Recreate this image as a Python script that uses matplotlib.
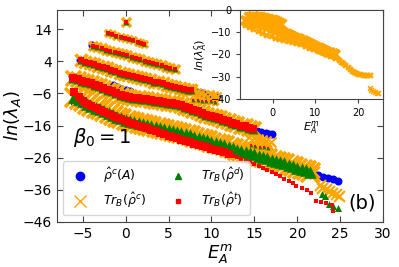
import matplotlib

matplotlib.use("Agg")
import matplotlib.pyplot as plt
from matplotlib.lines import Line2D

# ---- data (energy E_A^m, ln of eigenvalue) ----
band_a_e = [0.0]
band_a_ln = [16.1]

band_b_e = [-2.1, -1.6, -1.1, -0.6, -0.1, 0.4, 0.9, 1.4, 1.8, 2.1]
band_b_ln = [12.8, 12.4, 12.0, 11.6, 11.3, 10.9, 10.5, 10.1, 9.8, 9.5]

band_c_e = [-3.8, -3.3, -2.8, -2.3, -1.8, -1.3, -0.8, -0.3, 0.2, 0.7, 1.2, 1.7, 2.2, 2.7, 3.2, 3.7, 4.2, 4.7, 5.2, 5.7]
band_c_ln = [8.8, 8.4, 8.0, 7.6, 7.2, 6.9, 6.6, 6.2, 5.8, 5.4, 5.0, 4.6, 4.2, 3.8, 3.5, 3.1, 2.7, 2.3, 1.9, 1.5]

band_d_e = [-5.2, -4.7, -4.2, -3.7, -3.2, -2.7, -2.2, -1.7, -1.2, -0.7, -0.2, 0.3, 0.8, 1.3, 1.8, 2.3,
            2.8, 3.3, 3.8, 4.3, 4.8, 5.3, 5.8, 6.3, 6.8, 7.3, 7.6]
band_d_ln = [4.3, 3.9, 3.5, 3.1, 2.6, 2.2, 1.8, 1.3, 0.9, 0.4, 0.1, -0.3, -0.6, -0.9, -1.3, -1.6,
             -1.9, -2.3, -2.6, -2.9, -3.3, -3.6, -4.0, -4.3, -4.6, -4.9, -5.0]

block_d_top_e = [7.8, 8.3, 8.8, 9.3, 9.8, 10.3, 10.7]
block_d_top_ln = [-5.3, -5.6, -5.8, -6.1, -6.3, -6.6, -6.8]
block_d_low_e = [7.9, 8.4, 8.9, 9.4, 9.9, 10.4]
block_d_low_ln = [-8.0, -8.1, -8.3, -8.4, -8.5, -8.6]

band_e_e = [-6.1, -5.6, -5.1, -4.6, -4.1, -3.6, -3.1, -2.6, -2.1, -1.6, -1.1, -0.6, -0.1, 0.4, 0.9,
            1.4, 1.9, 2.4, 2.9, 3.4, 3.9, 4.4, 4.9, 5.4, 5.9, 6.4, 6.9, 7.4, 7.9, 8.4, 8.9, 9.4,
            9.9, 10.4, 10.9, 11.4, 11.9, 12.4, 12.9, 13.4, 13.9, 14.4, 14.8]
band_e_ln = [-1.3, -1.6, -2.0, -2.4, -2.8, -3.3, -3.8, -4.3, -4.8, -5.4, -5.9, -6.4, -6.8, -7.1, -7.3,
             -7.5, -7.7, -7.9, -8.1, -8.3, -8.5, -8.7, -8.9, -9.1, -9.4, -9.7, -10.1, -10.6, -11.1, -11.6,
             -12.1, -12.6, -13.0, -13.4, -13.8, -14.2, -14.7, -15.2, -15.6, -16.0, -16.3, -16.7, -17.0]

block_e_top_e = [14.4, 14.9, 15.4, 15.9, 16.4, 16.9]
block_e_top_ln = [-19.6, -19.9, -20.2, -20.5, -20.8, -21.0]
block_e_low_e = [14.6, 15.1, 15.6, 16.1, 16.6]
block_e_low_ln = [-22.2, -22.4, -22.6, -22.8, -23.0]

band_f_e = [-6.0, -5.5, -5.0, -4.5, -4.0, -3.5, -3.0, -2.5, -2.0, -1.5, -1.0, -0.5, 0.0, 0.5, 1.0,
            1.5, 2.0, 2.5, 3.0, 3.5, 4.0, 4.5, 5.0, 5.5, 6.0, 6.5, 7.0, 7.5, 8.0, 8.5, 9.0, 9.5,
            10.0, 10.5, 11.0, 11.5, 12.0, 12.5, 13.0, 13.5, 14.0, 14.5, 15.0, 15.5, 16.0, 16.5,
            17.0, 17.5, 18.0, 18.5, 19.0, 19.5, 20.0, 20.5, 21.0, 21.5]
band_f_ln = [-7.0, -7.8, -8.5, -9.2, -9.8, -10.4, -11.0, -11.6, -12.2, -12.8, -13.3, -13.8, -14.2, -14.6, -15.0,
             -15.3, -15.6, -15.9, -16.2, -16.5, -16.8, -17.1, -17.4, -17.7, -18.0, -18.4, -18.7, -19.1, -19.5, -19.9,
             -20.3, -20.6, -21.0, -21.4, -21.8, -22.2, -22.6, -23.0, -23.5, -23.9, -24.3, -24.6, -25.0, -25.4,
             -25.8, -26.2, -26.6, -27.0, -27.4, -27.8, -28.3, -28.7, -29.2, -29.6, -30.0, -30.5]

# red (rho^t) follows band F but drifts to its lower edge and then splits off
red_f_e = [-6.0, -5.5, -5.0, -4.5, -4.0, -3.5, -3.0, -2.5, -2.0, -1.5, -1.0, -0.5, 0.0, 0.5, 1.0, 1.5,
           2.0, 2.5, 3.0, 3.5, 4.0, 4.5, 5.0, 5.5, 6.0, 6.5, 7.0, 7.5, 8.0, 8.5, 9.0, 9.5, 10.0,
           10.5, 11.0, 11.5, 12.0]
red_f_ln = [-5.5, -7.0, -8.3, -9.2, -9.9, -10.6, -11.2, -11.8, -12.4, -13.0, -13.6, -14.1, -14.6, -15.1,
            -15.6, -16.0, -16.5, -16.9, -17.4, -17.8, -18.3, -18.7, -19.2, -19.6, -20.0, -20.4, -20.8,
            -21.2, -21.6, -22.0, -22.4, -22.8, -23.2, -23.6, -24.0, -24.4, -24.9]
red_tail_e = [12.5, 13.0, 13.5, 14.0, 14.5, 15.0, 15.5, 16.0, 16.5, 17.0, 17.5, 18.0, 18.5, 19.0, 19.5, 19.9,
              20.6, 21.1, 21.6, 22.2, 22.8, 23.4, 24.0, 24.2]
red_tail_ln = [-25.4, -25.9, -26.4, -26.9, -27.4, -28.0, -28.6, -29.2, -29.8, -30.5, -31.2, -31.8, -32.5,
               -33.2, -34.0, -34.8, -35.4, -36.2, -36.9, -39.4, -39.8, -40.2, -40.8, -42.5]

orange_end_e = [18.5, 19.2, 19.9, 20.6, 21.3, 22.0, 22.6, 22.9, 23.3, 23.7, 24.1, 24.5, 24.9]
orange_end_ln = [-27.6, -28.2, -28.8, -29.4, -30.0, -30.6, -34.5, -35.3, -35.9, -36.5, -37.0, -37.4, -37.8]

green_end_e = [22.9, 23.2, 23.7, 24.2, 24.7]
green_end_ln = [-37.2, -37.8, -40.4, -41.0, -41.6]

blue_e = [-6.0, -5.6, -5.2, -4.8, -4.4, -3.9, 7.7, 8.3, 8.9, 9.5, 10.1, 10.6, 12.4, 14.8, 15.3, 15.8,
          16.3, 16.7, 17.0, 20.0, 20.6, 21.2, 21.8, 22.4, 23.0, 23.6, 24.2, 24.8,
          -3.9, -5.3, -6.2, -1.5, -1.0, -0.5, 0.0, 0.5]
blue_ln = [-8.6, -8.9, -9.3, -9.7, -10.1, -10.6, -5.2, -5.6, -6.0, -6.4, -6.8, -7.0, -15.3, -17.2, -17.6,
           -18.0, -18.3, -18.5, -18.7, -29.3, -29.8, -30.3, -30.9, -31.4, -31.9, -32.4, -32.8, -33.2,
           9.0, 4.4, -0.6, -3.3, -3.9, -4.5, -5.0, -5.4]

# inset: ln(lambda_A^c) for the cut rho^c only
inset_top_e = [-5.5, -5.0, -4.5, -4.0, -3.5, -3.0, -2.5, -2.0, -1.5, -1.0, -0.5, 0.0, 0.5, 1.0, 1.5, 2.0]
inset_top_ln = [-3.2, -3.0, -2.9, -3.0, -3.1, -3.3, -3.5, -3.7, -3.9, -4.1, -4.4, -4.7, -5.0, -5.4, -5.8, -6.3]
inset_up_e = [-6.5, -6.0, -5.5, -5.0, -4.5, -4.0, -3.5, -3.0, -2.5, -2.0, -1.5, -1.0, -0.5, 0.0, 0.5,
              1.0, 1.5, 2.0, 2.5, 3.0, 3.5, 4.0, 4.5, 5.0, 5.5, 6.0, 6.5, 7.0, 7.5, 8.0, 8.5, 9.0,
              9.5, 10.0, 10.5, 11.0, 11.5, 12.0, 12.5, 13.0, 13.5, 14.0, 14.6]
inset_up_ln = [-4.6, -4.8, -5.0, -5.2, -5.4, -5.6, -5.8, -6.1, -6.4, -6.7, -7.0, -7.3, -7.7, -8.0, -8.4,
               -8.8, -9.2, -9.6, -10.0, -10.4, -10.8, -11.2, -11.6, -12.0, -12.4, -12.8, -13.2, -13.6,
               -14.0, -14.4, -14.9, -15.3, -15.8, -16.2, -16.7, -17.1, -17.5, -17.9, -18.3, -18.7,
               -19.1, -19.5, -19.8]
inset_low_e = [-6.5, -5.5, -4.5, -3.5, -2.5, -1.5, -0.5, 0.5, 1.5, 2.5, 3.5, 4.5, 5.5, 6.5, 7.5, 8.5,
               9.5, 10.5, 11.5, 12.5, 13.5, 14.5, 15.5, 16.0, 16.5, 17.0, 17.5, 18.0, 18.5, 19.0,
               19.5, 20.0, 20.5, 21.0, 21.5, 22.0, 22.7]
inset_low_ln = [-6.8, -7.7, -8.6, -9.5, -10.3, -11.1, -11.8, -12.4, -12.9, -13.4, -13.9, -14.4, -14.9,
                -15.5, -16.2, -16.9, -17.6, -18.3, -19.1, -19.9, -20.7, -21.5, -22.6, -23.3, -24.0,
                -24.8, -25.6, -26.5, -27.3, -28.0, -28.5, -28.8, -28.9, -29.0, -29.1, -29.1, -29.2]
inset_end_e = [22.8, 23.1, 23.5, 23.9, 24.3, 24.7]
inset_end_ln = [-35.2, -35.8, -36.4, -36.9, -37.2, -37.4]

xticks = [-5, 0, 5, 10, 15, 20, 25, 30]
yticks = [14, 4, -6, -16, -26, -36, -46]
inset_xticks = [0, 10, 20]
inset_yticks = [0, -10, -20, -30, -40]

BLUE = "#0000ff"
ORANGE = "#ffa500"
GREEN = "#008000"
RED = "#ff0000"

# (E, ln, band thickness in pixels) - thickness drives the marker sizes
main_bands = [
    (band_a_e, band_a_ln, 9),
    (band_b_e, band_b_ln, 7),
    (band_c_e, band_c_ln, 9),
    (band_d_e, band_d_ln, 12),
    (block_d_low_e, block_d_low_ln, 6),
    (band_e_e, band_e_ln, 15),
    (block_e_low_e, block_e_low_ln, 6),
    (band_f_e, band_f_ln, 19),
]


def px_to_s(px):
    return (px * 0.72) ** 2


fig = plt.figure(figsize=(3.99, 2.67), dpi=100)
ax = fig.add_axes([0.143, 0.169, 0.817, 0.794])

ax.scatter(blue_e, blue_ln, s=px_to_s(8), marker="o", color=BLUE, linewidths=0, zorder=2)
for e, ln, thick in main_bands:
    ax.scatter(e, ln, s=px_to_s(thick), marker="x", color=ORANGE, linewidths=2.6, zorder=3)
ax.scatter(block_d_top_e, block_d_top_ln, s=px_to_s(8), marker="x", color=ORANGE, linewidths=1.6, zorder=3)
ax.scatter(block_e_top_e, block_e_top_ln, s=px_to_s(10), marker="x", color=ORANGE, linewidths=1.6, zorder=3)
ax.scatter(orange_end_e, orange_end_ln, s=px_to_s(11), marker="x", color=ORANGE, linewidths=1.6, zorder=3)
for e, ln, thick in main_bands:
    ax.scatter(e, ln, s=px_to_s(thick * 0.66), marker="^", color=GREEN, linewidths=0, zorder=4)
ax.scatter(green_end_e, green_end_ln, s=px_to_s(7), marker="^", color=GREEN, linewidths=0, zorder=4)
for e, ln, thick in main_bands:
    if e is band_f_e:
        continue
    ax.scatter(e, ln, s=px_to_s(thick * 0.48), marker="s", color=RED, linewidths=0, zorder=5)
ax.scatter(red_f_e, red_f_ln, s=px_to_s(8), marker="s", color=RED, linewidths=0, zorder=5)
ax.scatter(red_tail_e, red_tail_ln, s=px_to_s(3.5), marker="s", color=RED, linewidths=0, zorder=5)

ax.set_xlim(-8, 30)
ax.set_ylim(-46, 20)
ax.set_xticks(xticks)
ax.set_yticks(yticks)
ax.tick_params(direction="in", top=True, right=True, labelsize=10, length=4, color="#444444")
for spine in ax.spines.values():
    spine.set_color("#444444")
ax.set_xlabel(r"$E_A^m$", fontsize=13, labelpad=1)
ax.set_ylabel(r"$ln(\lambda_A)$", fontsize=13, labelpad=0)
ax.text(0.05, 0.37, r"$\beta_0=1$", transform=ax.transAxes, fontsize=14)
ax.text(0.895, 0.065, "(b)", transform=ax.transAxes, fontsize=14)

handles = [
    Line2D([], [], ls="none", marker="o", ms=6, color=BLUE),
    Line2D([], [], ls="none", marker="x", ms=9, mew=1, color=ORANGE),
    Line2D([], [], ls="none", marker="^", ms=5, color=GREEN),
    Line2D([], [], ls="none", marker="s", ms=2.5, color=RED),
]
labels = [r"$\hat{\rho}^c(A)$", r"$Tr_B(\hat{\rho}^c)$", r"$Tr_B(\hat{\rho}^d)$", r"$Tr_B(\hat{\rho}^t)$"]
ax.legend(handles, labels, ncol=2, loc="lower left", fontsize=9, bbox_to_anchor=(0.01, 0.02),
          borderaxespad=0.2, handletextpad=0.8, columnspacing=1.6, labelspacing=0.45)

ins = fig.add_axes([0.602, 0.629, 0.358, 0.334])
ins.scatter(inset_top_e, inset_top_ln, s=50, marker="x", color=ORANGE, linewidths=2.5)
ins.scatter(inset_up_e, inset_up_ln, s=40, marker="x", color=ORANGE, linewidths=2.5)
ins.scatter(inset_low_e, inset_low_ln, s=12, marker="x", color=ORANGE, linewidths=1.8)
ins.scatter(inset_end_e, inset_end_ln, s=12, marker="x", color=ORANGE, linewidths=1.2)
ins.set_xlim(-7.6, 25.8)
ins.set_ylim(-40, 0)
ins.set_xticks(inset_xticks)
ins.set_yticks(inset_yticks)
ins.tick_params(labelsize=7, length=3, color="#444444")
for spine in ins.spines.values():
    spine.set_color("#444444")
ins.set_xlabel(r"$E_A^m$", fontsize=8, labelpad=1)
ins.set_ylabel(r"$ln(\lambda_A^c)$", fontsize=8, labelpad=1)

fig.savefig("out.png", dpi=100)
